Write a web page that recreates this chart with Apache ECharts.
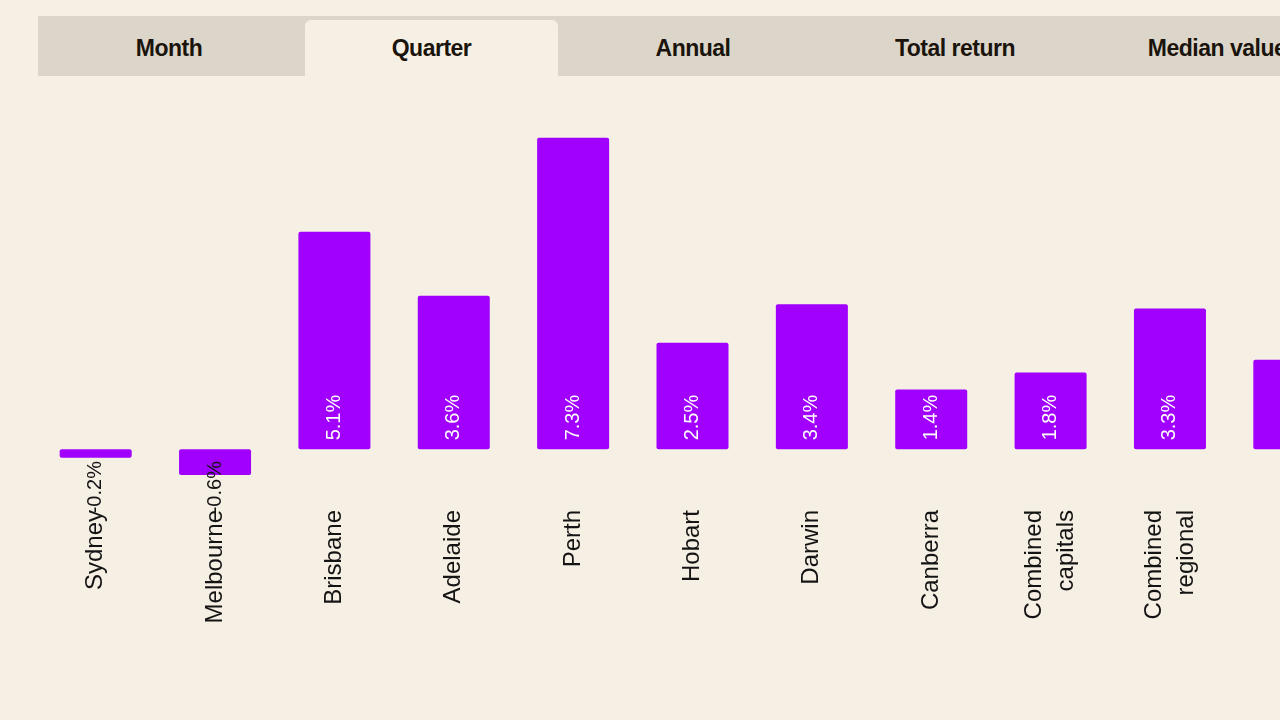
<!DOCTYPE html>
<html>
<head>
<meta charset="utf-8">
<script src="https://cdn.jsdelivr.net/npm/echarts@6/dist/echarts.min.js"></script>
<style>
  html, body { margin: 0; padding: 0; background: #f6efe4; overflow: hidden; }
  #chart { position: absolute; left: 0; top: 0; width: 1280px; height: 720px; }
  .tabs { position: absolute; left: 38px; top: 16px; height: 60px; width: 1400px; background: #dcd6ca; }
  .tab { position: absolute; top: 0; width: 262px; height: 60px; line-height: 64px; text-align: center;
         font-family: "Liberation Sans", Arial, sans-serif; font-weight: bold; font-size: 23px;
         letter-spacing: -0.5px; color: #1a140c; }
  .tab.active { background: #f6efe4; top: 4px; height: 56px; line-height: 56px; border-radius: 6px 6px 0 0; }
</style>
</head>
<body>
<div id="chart"></div>
<div class="tabs" id="tabs"></div>
<script>
// tabs across the top
var tabNames = ['Month', 'Quarter', 'Annual', 'Total return', 'Median value'];
var activeTab = 1;

// quarterly change by city (%)
var cities = ['Sydney', 'Melbourne', 'Brisbane', 'Adelaide', 'Perth', 'Hobart', 'Darwin',
              'Canberra', 'Combined\ncapitals', 'Combined\nregional', 'National'];
var quarterChange = [-0.2, -0.6, 5.1, 3.6, 7.3, 2.5, 3.4, 1.4, 1.8, 3.3, 2.1];

var tabsEl = document.getElementById('tabs');
tabNames.forEach(function (name, i) {
    var d = document.createElement('div');
    d.className = 'tab' + (i === activeTab ? ' active' : '');
    d.textContent = name;
    if (i === activeTab) {
        d.style.left = (i * 262 + 5) + 'px';
        d.style.width = '253px';
    } else {
        d.style.left = (i * 262) + 'px';
    }
    tabsEl.appendChild(d);
});

var chart = echarts.init(document.getElementById('chart'));

var option = {
    backgroundColor: '#f6efe4',
    animation: false,
    // the plot runs past the right edge of the window
    grid: { left: 36, width: 1313, top: 108, bottom: 228, outerBoundsMode: 'none', containLabel: false },
    xAxis: {
        type: 'category',
        data: cities,
        axisLine: { show: false, onZero: false },
        axisTick: { show: false },
        axisLabel: {
            rotate: 90,
            margin: 18,
            // last label sits off the edge of the window
            interval: function (index) { return index < cities.length - 1; },
            fontFamily: 'Liberation Sans',
            fontSize: 24,
            lineHeight: 32,
            color: '#141414'
        }
    },
    yAxis: {
        type: 'value',
        min: -1,
        max: 8,
        show: false,
        splitLine: { show: false }
    },
    series: [{
        type: 'bar',
        barWidth: 72,
        data: quarterChange.map(function (v) {
            return {
                value: v,
                label: v < 0
                    ? { position: ['50%', 64], color: '#141414' }
                    : { position: ['50%', '100%'], offset: [9, 0], color: '#ffffff' }
            };
        }),
        itemStyle: { color: '#a100ff', borderRadius: 2 },
        label: {
            show: true,
            rotate: 90,
            align: 'left',
            verticalAlign: 'middle',
            fontFamily: 'Liberation Sans',
            fontSize: 20,
            formatter: function (p) { return p.value.toFixed(1) + '%'; }
        }
    }]
};

chart.setOption(option);
</script>
</body>
</html>
